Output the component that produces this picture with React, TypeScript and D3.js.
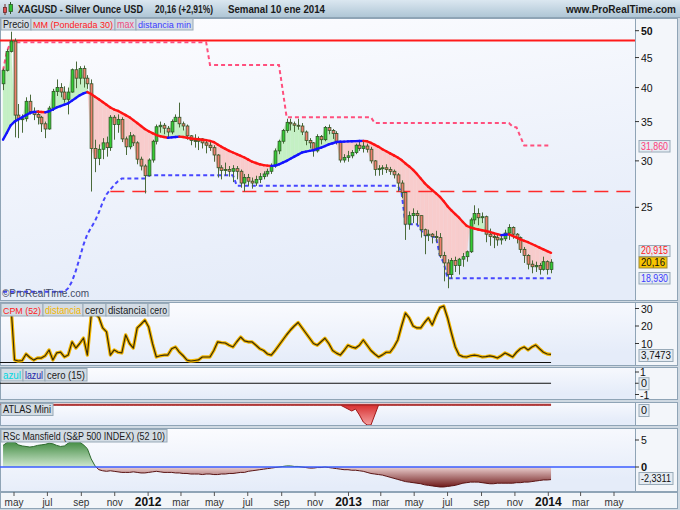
import React from "react";
import * as d3 from "d3";

const FONT = "'Liberation Sans', Arial, Helvetica, sans-serif";
const START_WEEK = "2011-04-11";

const opens = [
  40.6, 42.8, 46.1, 48.0, 35.9, 35.3, 35.4, 37.9, 36.4, 36.0, 35.6, 34.7,
  34.0, 36.9, 39.4, 40.0, 39.3, 38.2, 39.3, 42.9, 41.5, 43.1, 41.5, 40.6,
  31.5, 30.3, 31.4, 32.2, 31.6, 35.6, 34.6, 35.3, 32.7, 31.7, 33.1, 32.2,
  30.2, 29.4, 28.3, 30.1, 32.4, 34.3, 34.5, 34.1, 33.6, 35.0, 35.6, 34.7,
  34.4, 33.1, 32.5, 32.4, 32.7, 32.2, 31.9, 31.6, 30.7, 29.2, 28.9, 29.0,
  28.8, 29.1, 28.8, 27.5, 28.1, 27.7, 27.5, 27.9, 28.2, 28.5, 28.8, 29.4,
  31.2, 32.4, 33.8, 34.9, 34.7, 34.5, 34.4, 33.6, 32.5, 32.2, 31.2, 33.0,
  32.6, 34.2, 33.8, 33.4, 32.3, 30.1, 30.4, 30.6, 31.0, 31.9, 31.5, 31.8,
  31.4, 30.0, 29.0, 29.1, 29.2, 29.0, 28.8, 28.4, 27.5, 26.5, 23.4, 24.2,
  24.4, 24.2, 22.9, 22.4, 22.5, 22.3, 22.2, 20.7, 20.1, 19.2, 20.3, 19.9,
  20.4, 20.6, 21.0, 23.8, 24.4, 24.0, 24.1, 22.5, 22.3, 22.2, 22.0, 22.1,
  22.6, 23.1, 22.5, 22.2, 21.2, 20.7, 20.0, 19.8, 19.9, 19.6, 20.2, 19.59,
];
const highs = [
  43.1, 46.5, 49.8, 48.5, 37.5, 36.0, 38.5, 38.9, 37.0, 36.6, 35.8, 35.0,
  37.2, 39.8, 41.3, 40.7, 40.2, 40.0, 43.1, 44.3, 43.5, 43.6, 42.0, 41.3,
  32.6, 32.0, 32.8, 33.0, 35.9, 35.9, 36.0, 35.6, 33.0, 33.6, 33.3, 32.4,
  30.5, 29.6, 30.3, 32.6, 34.6, 35.0, 34.8, 34.4, 35.3, 36.0, 37.7, 35.0,
  34.6, 33.2, 33.3, 33.0, 32.8, 32.5, 32.4, 31.9, 30.8, 29.5, 29.8, 29.4,
  29.5, 29.4, 29.0, 28.5, 28.5, 28.1, 28.3, 28.6, 28.8, 29.1, 29.7, 31.5,
  32.6, 34.0, 35.4, 35.4, 35.0, 35.4, 34.8, 33.8, 32.8, 32.3, 33.3, 33.2,
  34.4, 34.6, 34.0, 33.7, 32.4, 30.8, 31.2, 31.3, 32.1, 32.4, 32.3, 32.1,
  31.7, 30.1, 29.5, 29.5, 29.6, 29.3, 29.0, 28.6, 27.8, 26.5, 24.6, 24.9,
  24.7, 24.2, 23.0, 22.9, 22.6, 22.8, 22.6, 21.0, 20.4, 20.5, 20.6, 20.5,
  20.9, 21.1, 24.0, 25.2, 24.9, 24.5, 24.2, 23.0, 22.6, 22.5, 22.5, 22.9,
  23.4, 23.2, 22.6, 22.3, 21.4, 20.8, 20.3, 20.2, 20.1, 20.6, 20.3, 20.4,
];
const lows = [
  39.6, 42.6, 45.9, 32.9, 32.8, 33.5, 35.0, 36.0, 35.2, 34.6, 33.6, 32.8,
  33.9, 36.5, 38.7, 38.5, 37.7, 36.0, 39.2, 39.9, 40.5, 40.0, 39.8, 26.6,
  28.7, 29.5, 30.2, 30.5, 31.2, 32.6, 33.5, 32.3, 30.7, 31.4, 31.8, 29.6,
  28.9, 26.4, 28.2, 29.8, 32.0, 33.5, 33.3, 32.9, 33.3, 35.0, 34.2, 33.8,
  32.6, 31.9, 31.6, 31.3, 31.5, 30.9, 31.2, 29.9, 28.1, 27.9, 28.3, 28.2,
  27.6, 27.9, 27.0, 26.6, 27.2, 26.9, 27.2, 27.5, 27.9, 28.2, 28.5, 29.2,
  30.8, 32.1, 33.5, 33.8, 33.6, 33.9, 33.2, 31.9, 31.5, 30.5, 31.0, 32.0,
  32.4, 33.3, 32.7, 32.0, 29.8, 29.8, 29.9, 30.3, 30.8, 31.2, 31.0, 31.0,
  29.7, 28.3, 28.3, 28.4, 28.6, 28.4, 28.0, 26.6, 25.9, 22.0, 22.9, 23.5,
  23.3, 22.2, 20.8, 21.9, 21.7, 21.8, 20.5, 18.7, 18.2, 18.9, 19.4, 19.2,
  19.8, 20.2, 20.9, 23.4, 23.3, 23.5, 21.8, 21.5, 21.3, 21.5, 21.6, 21.9,
  22.0, 22.1, 21.7, 20.9, 20.1, 19.6, 19.3, 19.4, 19.2, 19.5, 19.2, 19.3,
];
const closes = [
  42.8, 46.1, 48.0, 35.9, 35.3, 35.4, 37.9, 36.4, 36.0, 35.6, 34.7, 34.0,
  36.9, 39.4, 40.0, 39.3, 38.2, 39.3, 42.9, 41.5, 43.1, 41.5, 40.6, 31.5,
  30.3, 31.4, 32.2, 31.6, 35.6, 34.6, 35.3, 32.7, 31.7, 33.1, 32.2, 30.2,
  29.4, 28.3, 30.1, 32.4, 34.3, 34.5, 34.1, 33.6, 35.0, 35.6, 34.7, 34.4,
  33.1, 32.5, 32.4, 32.7, 32.2, 31.9, 31.6, 30.7, 29.2, 28.9, 29.0, 28.8,
  29.1, 28.8, 27.5, 28.1, 27.7, 27.5, 27.9, 28.2, 28.5, 28.8, 29.4, 31.2,
  32.4, 33.8, 34.9, 34.7, 34.5, 34.4, 33.6, 32.5, 32.2, 31.2, 33.0, 32.6,
  34.2, 33.8, 33.4, 32.3, 30.1, 30.4, 30.6, 31.0, 31.9, 31.5, 31.8, 31.4,
  30.0, 29.0, 29.1, 29.2, 29.0, 28.8, 28.4, 27.5, 26.5, 23.4, 24.2, 24.4,
  24.2, 22.9, 22.4, 22.5, 22.3, 22.2, 20.7, 20.1, 19.2, 20.3, 19.9, 20.4,
  20.6, 21.0, 23.8, 24.4, 24.0, 24.1, 22.5, 22.3, 22.2, 22.0, 22.1, 22.6,
  23.1, 22.5, 22.2, 21.2, 20.7, 20.0, 19.8, 19.9, 19.6, 20.2, 19.59, 20.16,
];
// MM (Ponderada 30)
const wma30 = [
  32.6, 33.5, 34.5, 35.0, 35.3, 35.6, 35.9, 36.2, 36.35, 36.4, 36.35, 36.3,
  36.45, 36.7, 37.0, 37.2, 37.4, 37.6, 38.0, 38.4, 38.8, 39.1, 39.3, 39.0,
  38.6, 38.2, 37.8, 37.4, 37.0, 36.7, 36.5, 36.2, 35.9, 35.6, 35.2, 34.8,
  34.4, 34.0, 33.7, 33.45, 33.2, 33.05, 32.95, 32.85, 32.9, 32.95, 33.0, 32.95,
  32.85, 32.75, 32.7, 32.65, 32.6, 32.55, 32.45, 32.3, 32.0, 31.7, 31.45, 31.2,
  31.0, 30.8, 30.6, 30.4, 30.15, 29.9, 29.75, 29.6, 29.5, 29.45, 29.42, 29.45,
  29.6, 29.8, 30.0, 30.25, 30.5, 30.75, 31.0, 31.1, 31.2, 31.3, 31.45, 31.6,
  31.8, 32.0, 32.15, 32.3, 32.33, 32.36, 32.38, 32.4, 32.42, 32.44, 32.45, 32.4,
  32.2, 31.95, 31.7, 31.4, 31.15, 30.9, 30.65, 30.4, 30.1, 29.7, 29.35, 28.95,
  28.5, 28.0, 27.5, 27.1, 26.75, 26.4, 26.05, 25.6, 25.1, 24.7, 24.35, 24.0,
  23.6, 23.25, 23.1, 23.0, 22.92, 22.85, 22.78, 22.7, 22.6, 22.5, 22.42, 22.45,
  22.48, 22.35, 22.2, 22.05, 21.92, 21.8, 21.65, 21.5, 21.35, 21.2, 21.05, 20.915,
];
// max
const maxLine = [
  42.8, 46.1, 47.8, 47.8, 47.8, 47.8, 47.8, 47.8, 47.8, 47.8, 47.8, 47.8,
  47.8, 47.8, 47.8, 47.8, 47.8, 47.8, 47.8, 47.8, 47.8, 47.8, 47.8, 47.8,
  47.8, 47.8, 47.8, 47.8, 47.8, 47.8, 47.8, 47.8, 47.8, 47.8, 47.8, 47.8,
  47.8, 47.8, 47.8, 47.8, 47.8, 47.8, 47.8, 47.8, 47.8, 47.8, 47.8, 47.8,
  47.8, 47.8, 47.8, 47.8, 47.8, 47.8, 43.7, 43.7, 43.7, 43.7, 43.7, 43.7,
  43.7, 43.7, 43.7, 43.7, 43.7, 43.7, 43.7, 43.7, 43.7, 43.7, 43.7, 43.7,
  43.7, 39.5, 35.6, 35.6, 35.6, 35.6, 35.6, 35.6, 35.6, 35.6, 35.6, 35.6,
  35.6, 35.6, 35.6, 35.6, 35.6, 35.6, 35.6, 35.6, 35.6, 35.6, 35.6, 35.6,
  35.6, 34.8, 34.8, 34.8, 34.8, 34.8, 34.8, 34.8, 34.8, 34.8, 34.8, 34.8,
  34.8, 34.8, 34.8, 34.8, 34.8, 34.8, 34.8, 34.8, 34.8, 34.8, 34.8, 34.8,
  34.8, 34.8, 34.8, 34.8, 34.8, 34.8, 34.8, 34.8, 34.8, 34.8, 34.8, 34.8,
  34.8, 34.3, 34.2, 33.0, 31.86, 31.86, 31.86, 31.86, 31.86, 31.86, 31.86, 31.86,
];
// distancia min
const minLine = [
  17.95, 17.95, 17.95, 17.95, 17.95, 17.95, 17.95, 17.95, 17.95, 17.95, 17.95, 17.95,
  17.95, 17.95, 17.95, 17.95, 17.95, 18.2, 18.7, 19.5, 20.5, 21.6, 22.5, 23.1,
  23.7, 24.5, 25.5, 26.3, 26.8, 27.3, 27.7, 28.0, 28.0, 28.0, 28.0, 28.0,
  28.0, 28.0, 28.35, 28.35, 28.35, 28.35, 28.35, 28.35, 28.35, 28.35, 28.35, 28.35,
  28.35, 28.35, 28.35, 28.35, 28.35, 28.35, 28.35, 28.35, 28.35, 28.35, 28.35, 28.35,
  28.35, 27.2, 27.2, 27.2, 27.2, 27.2, 27.2, 27.2, 27.2, 27.2, 27.2, 27.2,
  27.2, 27.2, 27.2, 27.2, 27.2, 27.2, 27.2, 27.2, 27.2, 27.2, 27.2, 27.2,
  27.2, 27.2, 27.2, 27.2, 27.2, 27.2, 27.2, 27.2, 27.2, 27.2, 27.2, 27.2,
  27.2, 27.2, 27.2, 27.2, 27.2, 27.2, 27.2, 27.2, 26.5, 23.4, 23.4, 23.4,
  23.4, 22.9, 22.4, 22.4, 22.3, 22.2, 20.7, 20.1, 18.93, 18.93, 18.93, 18.93,
  18.93, 18.93, 18.93, 18.93, 18.93, 18.93, 18.93, 18.93, 18.93, 18.93, 18.93, 18.93,
  18.93, 18.93, 18.93, 18.93, 18.93, 18.93, 18.93, 18.93, 18.93, 18.93, 18.93, 18.93,
];
// CPM (52) distancia
const cpm = [
  26, 30, 34, 0.6, 0, 0.3, 4, 2, 0.5, 1.7, 1.7, 3,
  6.3, 0.6, 4.6, 5.1, 2.3, 3.4, 10.9, 7.4, 10, 13.1, 3.4, 26,
  27, 25, 18.9, 16.6, 3.4, 6.3, 5, 4.6, 14.9, 10, 7.4, 18.9,
  21, 23.4, 19.4, 10, 2.3, 3, 3.4, 3.4, 7, 8, 5.1, 3,
  0.5, 0, 0.3, 0.6, 2.3, 2.3, 2.3, 6, 10.9, 10.5, 10.3, 9,
  8, 11, 13.7, 11.5, 10.9, 10.9, 9, 7, 6, 4, 3.4, 6,
  9, 12, 15, 17.7, 20, 22, 19, 16, 13, 10, 9, 11,
  13, 10, 6, 4.5, 3.4, 6, 9, 8, 7.4, 9, 12, 9,
  6, 4, 2.3, 3.5, 5, 5, 8, 12, 20, 27.4, 24.6, 20,
  18.9, 18.9, 22, 24.6, 20.6, 26, 30.5, 31.4, 24.6, 16, 8, 3.4,
  2.5, 2.3, 3, 3.4, 3, 2.3, 2.5, 2.9, 2.5, 1.7, 3, 4.6,
  3.5, 2.3, 5, 7, 8, 6.3, 8, 9.1, 7, 5, 4, 3.7473,
];
// ATLAS Mini
const atlas = [
  0, 0, 0, 0, 0, 0, 0, 0, 0, 0, 0, 0,
  0, 0, 0, 0, 0, 0, 0, 0, 0, 0, 0, 0,
  0, 0, 0, 0, 0, 0, 0, 0, 0, 0, 0, 0,
  0, 0, 0, 0, 0, 0, 0, 0, 0, 0, 0, 0,
  0, 0, 0, 0, 0, 0, 0, 0, 0, 0, 0, 0,
  0, 0, 0, 0, 0, 0, 0, 0, 0, 0, 0, 0,
  0, 0, 0, 0, 0, 0, 0, 0, 0, 0, 0, 0,
  0, 0, 0, 0, 0, -2, -4, -6, -4, -10, -17, -20,
  -20, -10, 0, 0, 0, 0, 0, 0, 0, 0, 0, 0,
  0, 0, 0, 0, 0, 0, 0, 0, 0, 0, 0, 0,
  0, 0, 0, 0, 0, 0, 0, 0, 0, 0, 0, 0,
  0, 0, 0, 0, 0, 0, 0, 0, 0, 0, 0, 0,
];
// RSc Mansfield (S&P 500 INDEX) (52 10)
const rsc = [
  4.0, 4.5, 5.0, 4.6, 4.1, 3.9, 3.8, 3.7, 3.8, 4.0, 4.1, 4.2,
  4.4, 4.3, 4.0, 3.8, 3.9, 4.4, 4.9, 5.0, 4.6, 4.1, 3.4, 1.5,
  0.2, -0.5, -0.7, -0.8, -0.7, -0.8, -0.9, -1.0, -1.0, -1.0, -0.9, -1.0,
  -1.1, -1.1, -1.0, -0.9, -0.8, -0.9, -1.0, -1.0, -1.0, -1.1, -1.1, -1.2,
  -1.2, -1.3, -1.3, -1.3, -1.4, -1.3, -1.3, -1.4, -1.4, -1.3, -1.3, -1.2,
  -1.2, -1.1, -1.0, -1.0, -0.8, -0.7, -0.6, -0.5, -0.4, -0.3, -0.2, -0.1,
  0.0, 0.1, 0.2, 0.2, 0.1, 0.1, 0.0, -0.1, -0.2, -0.2, -0.1, -0.1,
  0.0, -0.1, -0.2, -0.3, -0.4, -0.5, -0.5, -0.6, -0.6, -0.7, -0.8, -1.0,
  -1.2, -1.3, -1.4, -1.5, -1.7, -1.9, -2.1, -2.3, -2.5, -2.7, -2.8, -2.9,
  -3.0, -3.1, -3.3, -3.4, -3.5, -3.6, -3.7, -3.7, -3.6, -3.5, -3.4, -3.2,
  -3.0, -2.9, -2.8, -2.8, -2.8, -2.9, -3.0, -3.1, -3.1, -3.0, -3.0, -3.0,
  -3.0, -3.0, -2.9, -2.9, -2.8, -2.8, -2.7, -2.6, -2.5, -2.4, -2.4, -2.3311,
];

const RESIST = 48.1;
const SUPPORT = 26.6;
const SUPPORT_FROM = "2011-10-24";
const priceTicks = [50, 45, 40, 35, 30, 25];
const cpmTicks = [30, 20, 10];
const azulTicks = [1, -1];
const rscTicks = [5];
const MONTHS_ES = ["ene", "feb", "mar", "abr", "may", "jun", "jul", "ago", "sep", "oct", "nov", "dic"];

const PR = 635; // plot right edge
const PANELS = [
  { top: 18, bottom: 300 },
  { top: 302, bottom: 365 },
  { top: 367, bottom: 399 },
  { top: 402, bottom: 425 },
  { top: 428, bottom: 491 },
];

function Tag({ x, y, w, h, label, color, fs = 10, bg = "#d3dce4", bold = false, stroke = "#98aab8" }:
  { x: number; y: number; w: number; h: number; label: string; color: string; fs?: number; bg?: string; bold?: boolean; stroke?: string }) {
  return (
    <g>
      <rect x={x + 0.5} y={y + 0.5} width={w} height={h} fill={bg} stroke={stroke} strokeWidth={1} />
      <text x={x + 2.5} y={y + h - 2} fontSize={fs} fill={color} fontWeight={bold ? "bold" : "normal"}
        textLength={w - 4} lengthAdjust="spacingAndGlyphs">{label}</text>
    </g>
  );
}

export default function App() {
  const n = closes.length;
  const t0 = new Date(START_WEEK + "T00:00:00Z");
  const dates = closes.map((_, i) => d3.utcDay.offset(t0, 7 * i));
  const x = d3.scaleUtc()
    .domain([new Date(Date.UTC(2011, 4, 1)), new Date(Date.UTC(2014, 4, 1))])
    .range([14, 614]);
  const X = dates.map((d) => x(d));
  const yP = d3.scaleLog().domain([20, 50]).range([264.2, 30.7]);
  const yC = d3.scaleLinear().domain([0, 30]).range([361, 308.5]);
  const yAz = d3.scaleLinear().domain([-1, 1]).range([394.5, 372]);
  const yAt = d3.scaleLinear().domain([-20, 0]).range([425, 405]);
  const yR = d3.scaleLinear().domain([-5, 5]).range([494, 440]);

  // fill between close and MA
  const fills: { pts: [number, number][]; up: boolean }[] = [];
  for (let i = 1; i < n; i++) {
    const x0 = X[i - 1], x1 = X[i];
    const c0 = yP(closes[i - 1]), c1 = yP(closes[i]);
    const m0 = yP(wma30[i - 1]), m1 = yP(wma30[i]);
    const e0 = m0 - c0, e1 = m1 - c1;
    if (e0 * e1 >= 0) {
      fills.push({ pts: [[x0, c0], [x1, c1], [x1, m1], [x0, m0]], up: e0 + e1 > 0 });
    } else {
      const t = e0 / (e0 - e1);
      const xc = x0 + t * (x1 - x0);
      const yc = c0 + t * (c1 - c0);
      fills.push({ pts: [[x0, c0], [xc, yc], [x0, m0]], up: e0 > 0 });
      fills.push({ pts: [[xc, yc], [x1, c1], [x1, m1]], up: e1 > 0 });
    }
  }

  const maxPath = d3.line<number>().x((_, i) => X[i]).y((v) => yP(v))(maxLine) || "";
  const minPath = d3.line<number>().x((_, i) => X[i]).y((v) => yP(v))(minLine) || "";
  const cpmPath = d3.line<number>().x((_, i) => X[i]).y((v) => yC(v))(cpm) || "";
  const atlasArea = d3.area<number>().x((_, i) => X[i]).y0(yAt(0)).y1((v) => yAt(v))(atlas) || "";
  const rscArea = d3.area<number>().x((_, i) => X[i]).y0(yR(0)).y1((v) => yR(v))(rsc) || "";
  const rscLine = d3.line<number>().x((_, i) => X[i]).y((v) => yR(v))(rsc) || "";

  const monthTicks = d3.utcMonth.every(2)!.range(new Date(Date.UTC(2011, 4, 1)), new Date(Date.UTC(2014, 4, 2)));
  const xLast = X[n - 1];
  const supportX = x(new Date(SUPPORT_FROM + "T00:00:00Z"));

  return (
    <svg width={680} height={510} style={{ position: "absolute", left: 0, top: 0, fontFamily: FONT }}>
      <defs>
        <linearGradient id="hdr" x1="0" y1="0" x2="0" y2="1">
          <stop offset="0" stopColor="#dbe7f0" />
          <stop offset="1" stopColor="#afc6d6" />
        </linearGradient>
        <linearGradient id="pbg" x1="0" y1="0" x2="0.3" y2="1">
          <stop offset="0" stopColor="#fdfdff" />
          <stop offset="1" stopColor="#e5ecf9" />
        </linearGradient>
        <linearGradient id="rpos" gradientUnits="userSpaceOnUse" x1="0" y1={yR(5)} x2="0" y2={yR(0)}>
          <stop offset="0" stopColor="#3a863a" />
          <stop offset="1" stopColor="#cfe8cf" />
        </linearGradient>
        <linearGradient id="rneg" gradientUnits="userSpaceOnUse" x1="0" y1={yR(0)} x2="0" y2={yR(-3.7)}>
          <stop offset="0" stopColor="#ecd0d0" />
          <stop offset="1" stopColor="#6e1a1a" />
        </linearGradient>
        <linearGradient id="atl" gradientUnits="userSpaceOnUse" x1="0" y1={yAt(0)} x2="0" y2={yAt(-20)}>
          <stop offset="0" stopColor="#d83030" />
          <stop offset="1" stopColor="#f4a0a0" />
        </linearGradient>
        {PANELS.map((p, k) => (
          <clipPath id={"clip" + k} key={k}>
            <rect x={0} y={p.top + 1} width={PR} height={p.bottom - p.top - 1} />
          </clipPath>
        ))}
        <clipPath id="rposc"><rect x={0} y={PANELS[4].top} width={PR} height={yR(0) - PANELS[4].top} /></clipPath>
        <clipPath id="rnegc"><rect x={0} y={yR(0)} width={PR} height={PANELS[4].bottom - yR(0)} /></clipPath>
      </defs>

      <rect x={0} y={0} width={680} height={510} fill="#cfd9e2" />

      {/* header */}
      <rect x={0} y={0} width={680} height={17} fill="url(#hdr)" />
      <line x1={0} x2={680} y1={17.5} y2={17.5} stroke="#8ea4b5" />
      <line x1={5} x2={5} y1={4} y2={15} stroke="#6a2a2a" />
      <rect x={3.5} y={7.5} width={3} height={5} fill="#e05050" stroke="#6a2a2a" strokeWidth={0.8} />
      <line x1={10.5} x2={10.5} y1={2} y2={14} stroke="#2a5a2a" />
      <rect x={9} y={4.5} width={3.5} height={7} fill="#30c030" stroke="#2a5a2a" strokeWidth={0.8} />
      <g fontWeight="bold" fontSize={10} fill="#1a1a1a">
        <text x={18} y={13} textLength={125} lengthAdjust="spacingAndGlyphs">XAGUSD - Silver Ounce USD</text>
        <text x={155} y={13} textLength={58} lengthAdjust="spacingAndGlyphs">20,16 (+2,91%)</text>
        <text x={228} y={13} textLength={97} lengthAdjust="spacingAndGlyphs">Semanal  10 ene 2014</text>
        <text x={676} y={13} textAnchor="end">www.ProRealTime.com</text>
      </g>

      {/* panel frames */}
      {PANELS.map((p, k) => (
        <g key={k}>
          <rect x={0.5} y={p.top + 0.5} width={PR} height={p.bottom - p.top} fill="url(#pbg)" stroke="#8fa4b6" />
          <rect x={PR + 0.5} y={p.top + 0.5} width={677 - PR} height={p.bottom - p.top} fill="#f3f6fa" stroke="#8fa4b6" />
        </g>
      ))}

      {/* ---------- main panel ---------- */}
      <g clipPath="url(#clip0)">
        {fills.map((f, k) => (
          <polygon key={k} points={f.pts.map((p) => p.join(",")).join(" ")}
            fill={f.up ? "#c4f0c4" : "#f8cccc"} stroke={f.up ? "#c4f0c4" : "#f8cccc"} strokeWidth={0.4} />
        ))}
        <line x1={0} x2={PR} y1={yP(RESIST)} y2={yP(RESIST)} stroke="#ff1a1a" strokeWidth={2} />
        <line x1={supportX} x2={PR} y1={yP(SUPPORT)} y2={yP(SUPPORT)} stroke="#ff2a2a" strokeWidth={1.5} strokeDasharray="14 8" />
        <path d={maxPath} fill="none" stroke="#ff4f7d" strokeWidth={2} strokeDasharray="4 3" />
        <path d={minPath} fill="none" stroke="#4646ff" strokeWidth={2} strokeDasharray="4 3" />
        {closes.map((c, i) => {
          const o = opens[i];
          const cx = Math.round(X[i]) + 0.5;
          const yo = yP(o), yc = yP(c);
          const top = Math.min(yo, yc);
          const h = Math.max(1, Math.abs(yo - yc));
          const up = c >= o;
          return (
            <g key={i}>
              <line x1={cx} x2={cx} y1={yP(highs[i])} y2={yP(lows[i])} stroke="#4a6a3a" strokeWidth={1} />
              <rect x={cx - 1.4} y={top} width={2.8} height={h} fill={up ? "#33cc33" : "#ef7e6e"} stroke="#2f5626" strokeWidth={0.8} />
            </g>
          );
        })}
        {wma30.map((v, i) => {
          if (i === 0) return null;
          const rising = v >= wma30[i - 1];
          return (
            <line key={i} x1={X[i - 1]} y1={yP(wma30[i - 1])} x2={X[i]} y2={yP(v)}
              stroke={rising ? "#1414ff" : "#ff1414"} strokeWidth={2.4} strokeLinecap="round" />
          );
        })}
        <text x={2} y={297} fontSize={10} fill="#444c66">©ProRealTime.com</text>
      </g>
      <Tag x={0.5} y={18} w={30} h={11.5} label="Precio" color="#1a1a1a" />
      <Tag x={30.5} y={18} w={84} h={11.5} label="MM (Ponderada 30)" color="#ff1a1a" fs={9} />
      <Tag x={114.5} y={18} w={21} h={11.5} label="max" color="#ee4c80" />
      <Tag x={135.5} y={18} w={57} h={11.5} label="distancia min" color="#3c3cff" fs={9.5} />

      {priceTicks.map((v) => (
        <g key={v}>
          <line x1={PR} x2={PR + 4} y1={yP(v)} y2={yP(v)} stroke="#333" />
          <text x={PR + 6} y={yP(v) + 4} fontSize={10.5} fontWeight={v === 50 ? "bold" : "normal"} fill="#111">{v}</text>
        </g>
      ))}
      <Tag x={638.5} y={140} w={31} h={11.5} label="31,860" color="#ff3d7a" bg="#e4ebf2" fs={10} />
      <Tag x={638.5} y={245} w={31} h={11} label="20,915" color="#ff1a1a" bg="#e4ebf2" fs={10} />
      <Tag x={638.5} y={256.5} w={28} h={11} label="20,16" color="#111" bg="#f6c400" fs={10} stroke="#9a8a40" />
      <Tag x={638.5} y={272} w={31} h={11.5} label="18,930" color="#3c3cff" bg="#e4ebf2" fs={10} />

      {/* ---------- CPM panel ---------- */}
      <g clipPath="url(#clip1)">
        <line x1={0} x2={xLast} y1={yC(0) + 1.5} y2={yC(0) + 1.5} stroke="#111" strokeWidth={1.2} />
        <path d={cpmPath} fill="none" stroke="#f4b800" strokeWidth={3.4} strokeLinejoin="round" />
        <path d={cpmPath} fill="none" stroke="#3a2c08" strokeWidth={1.2} strokeLinejoin="round" />
      </g>
      <Tag x={0.5} y={303} w={42} h={12.5} label="CPM (52)" color="#ff2020" fs={9} />
      <Tag x={42.5} y={303} w={40} h={12.5} label="distancia" color="#f2b400" />
      <Tag x={82.5} y={303} w={23} h={12.5} label="cero" color="#1a1a1a" />
      <Tag x={105.5} y={303} w={42} h={12.5} label="distancia" color="#1a1a1a" />
      <Tag x={147.5} y={303} w={21} h={12.5} label="cero" color="#1a1a1a" />
      {cpmTicks.map((v) => (
        <g key={v}>
          <line x1={PR} x2={PR + 4} y1={yC(v)} y2={yC(v)} stroke="#333" />
          <text x={PR + 6} y={yC(v) + 4} fontSize={10.5} fill="#111">{v}</text>
        </g>
      ))}
      <Tag x={638.5} y={349} w={34} h={12} label="3,7473" color="#111" bg="#e4ebf2" />

      {/* ---------- azul panel ---------- */}
      <g clipPath="url(#clip2)">
        <line x1={0} x2={xLast} y1={yAz(0)} y2={yAz(0)} stroke="#111" strokeWidth={1.2} />
      </g>
      <Tag x={0.5} y={368} w={22} h={12.5} label="azul" color="#00d8e0" />
      <Tag x={22.5} y={368} w={22} h={12.5} label="lazul" color="#1c1ca8" />
      <Tag x={44.5} y={368} w={42} h={12.5} label="cero (15)" color="#1a1a1a" />
      {azulTicks.map((v) => (
        <g key={v}>
          <line x1={PR} x2={PR + 4} y1={yAz(v)} y2={yAz(v)} stroke="#333" />
          <text x={PR + 5} y={yAz(v) + 4} fontSize={10.5} fill="#111">{v}</text>
        </g>
      ))}
      <line x1={PR} x2={PR + 4} y1={yAz(0)} y2={yAz(0)} stroke="#333" />
      <Tag x={638.5} y={yAz(0) - 6} w={10} h={12} label="0" color="#111" bg="#e4ebf2" />

      {/* ---------- ATLAS panel ---------- */}
      <g clipPath="url(#clip3)">
        <path d={atlasArea} fill="url(#atl)" stroke="#a01818" strokeWidth={1} />
        <line x1={0} x2={xLast} y1={yAt(0) - 0.5} y2={yAt(0) - 0.5} stroke="#b03838" strokeWidth={1.6} />
      </g>
      <Tag x={0.5} y={403} w={52} h={12} label="ATLAS Mini" color="#1a1a1a" />
      <Tag x={638.5} y={404} w={10} h={12} label="0" color="#111" bg="#e4ebf2" />

      {/* ---------- RSc Mansfield panel ---------- */}
      <g clipPath="url(#clip4)">
        <g clipPath="url(#rposc)">
          <path d={rscArea} fill="url(#rpos)" />
          <path d={rscLine} fill="none" stroke="#2f6a2f" strokeWidth={1} />
        </g>
        <g clipPath="url(#rnegc)">
          <path d={rscArea} fill="url(#rneg)" />
          <path d={rscLine} fill="none" stroke="#5a1414" strokeWidth={1} />
        </g>
        <line x1={0} x2={PR} y1={yR(0)} y2={yR(0)} stroke="#3a5cff" strokeWidth={1.5} />
      </g>
      <Tag x={0.5} y={429} w={166} h={12.5} label="RSc Mansfield (S&P 500 INDEX) (52 10)" color="#1a1a1a" />
      {rscTicks.map((v) => (
        <g key={v}>
          <line x1={PR} x2={PR + 4} y1={yR(v)} y2={yR(v)} stroke="#333" />
          <text x={PR + 6} y={yR(v) + 4} fontSize={10.5} fill="#111">{v}</text>
        </g>
      ))}
      <line x1={PR} x2={PR + 4} y1={yR(0)} y2={yR(0)} stroke="#333" />
      <text x={PR + 6} y={yR(0) + 4} fontSize={11} fontWeight="bold" fill="#111">0</text>
      <Tag x={638.5} y={472} w={34} h={12} label="-2,3311" color="#111" bg="#e4ebf2" />

      {/* ---------- x axis ---------- */}
      <rect x={0.5} y={492.5} width={677} height={16} fill="#f2f5f9" stroke="#8fa4b6" />
      {monthTicks.map((d, k) => {
        const m = d.getUTCMonth();
        const isYear = m === 0;
        const tx = x(d);
        return (
          <g key={k}>
            <line x1={tx} x2={tx} y1={492} y2={496} stroke="#555" />
            <text x={tx} y={506} textAnchor="middle" fontSize={isYear ? 12 : 10}
              fontWeight={isYear ? "bold" : "normal"} fill={isYear ? "#111" : "#333"}>
              {isYear ? String(d.getUTCFullYear()) : MONTHS_ES[m]}
            </text>
          </g>
        );
      })}
    </svg>
  );
}
